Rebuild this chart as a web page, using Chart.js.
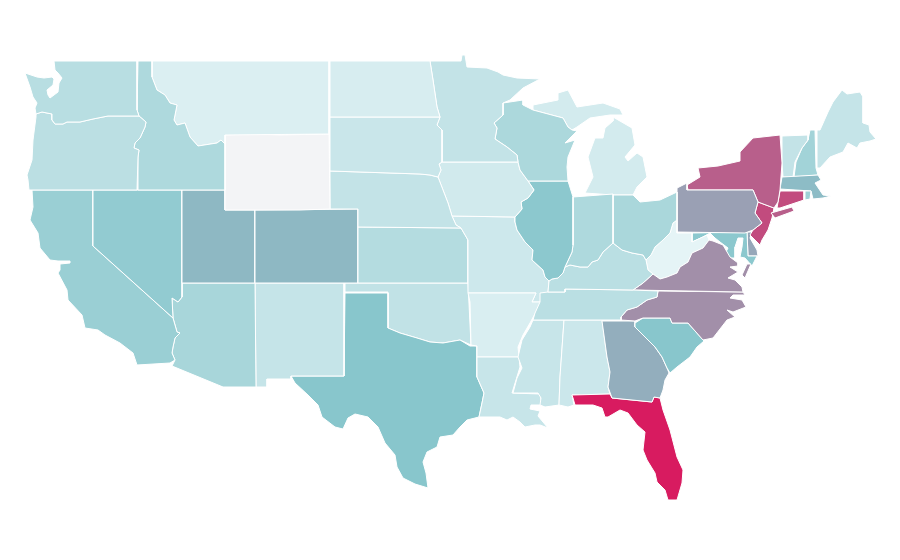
<!DOCTYPE html>
<html><head><meta charset="utf-8">
<style>html,body{margin:0;padding:0;background:#fff}canvas{display:block}</style>
<script src="https://cdn.jsdelivr.net/npm/chart.js@4"></script>
</head><body>
<canvas id="c" width="900" height="560"></canvas>
<script>
const stateNames=["Washington","Oregon","Idaho","Montana","Wyoming","North Dakota","South Dakota","Nebraska","Minnesota","Wisconsin","Iowa","Illinois","Indiana","Ohio","Kentucky","Tennessee","Virginia","North Carolina","South Carolina","Georgia","Florida","Alabama","Mississippi","Louisiana","Arkansas","Missouri","Kansas","Colorado","Utah","Nevada","California","Arizona","New Mexico","Texas","Oklahoma","Michigan","West Virginia","Pennsylvania","New York","New Jersey","Connecticut","Rhode Island","Massachusetts","Vermont","New Hampshire","Maine","Maryland","Delaware"];
const stateValues=[26,24,31,8,null,10,17,20,20,32,13,48,31,33,25,25,66,66,50,57,100,16,18,18,9,15,28,54,54,45,41,34,19,50,21,12,3,61,80,86,86,39,53,20,37,19,48,59];
const WA=[[54,61,137,61,137,110,139,116,108,116,93,119,80,122,67,122,63,124,55,124,52,120,52,114,42,112,36,114,35,108,37,103,33,97,30,87,25,73,37,77,44,78,52,77,54,79,53,85,47,90,48,95,50,98,58,92,59,83,62,78,58,73,55,70]];
const OR=[[36,114,42,112,52,114,52,120,55,124,63,124,67,122,80,122,93,119,108,116,139,116,146,122,145,127,140,138,135,143,134,148,139,150,138,157,137,190,29,190,28,180,27,175,32,160,33,140,36,117]];
const ID=[[138,61,152,61,152,77,157,90,165,95,170,103,177,105,174,120,177,125,185,123,190,137,198,146,217,143,221,140,225,144,225,190,138,190,138,157,139,150,134,148,135,143,140,138,145,127,146,122,139,116,137,110]];
const MT=[[152,61,329,61,329,134,225,135,225,144,221,140,217,143,198,146,190,137,185,123,177,125,174,120,177,105,170,103,165,95,157,90,152,77]];
const WY=[[225,135,250,134,280,135,329,134,330,209,300,210,255,210,225,210]];
const ND=[[330,61,430,61,433,80,437,107,440,117,330,117]];
const SD=[[330,117,440,117,437,125,442,130,442,162,439,164,441,170,438,177,430,175,420,174,330,171]];
const NE=[[330,171,420,174,430,175,438,177,443,190,448,203,452,216,456,225,461,228,358,227,358,209,330,209]];
const MN=[[430,61,461,61,462,55,465,55,467,67,487,68,498,72,503,75,517,78,540,79,523,88,510,100,503,103,503,115,494,123,497,128,495,139,507,147,517,155,518,162,442,162,442,130,437,125,440,117,437,107,433,80]];
const WI=[[503,103,523,100,523,105,533,110,563,118,568,127,572,130,577,131,565,143,575,140,568,157,567,167,568,181,528,181,520,170,518,162,517,155,507,147,495,139,497,128,494,123,503,115]];
const IA=[[442,162,518,162,520,170,528,181,534,190,528,198,521,202,522,209,515,217,452,216,448,203,443,190,438,177,441,170,439,164]];
const IL=[[528,181,568,181,573,197,573,245,572,252,565,267,563,273,558,278,552,279,549,281,545,277,543,270,532,260,533,250,525,242,517,230,515,222,515,217,522,209,521,202,528,198,534,190]];
const IN=[[573,197,613,194,613,243,603,252,598,260,592,262,588,267,580,267,570,265,565,267,572,252,573,245]];
const OH=[[613,195,633,195,640,202,660,200,677,192,677,220,673,223,670,233,663,240,655,247,651,255,646,260,643,255,632,253,622,250,613,243]];
const KY=[[613,243,622,250,632,253,643,255,646,260,648,270,653,274,643,283,633,290,565,289,565,292,548,292,549,281,552,279,558,278,563,273,565,267,570,265,580,267,588,267,592,262,598,260,603,252]];
const TN=[[540,293,548,292,565,292,565,289,633,290,658,291,657,297,647,300,637,307,627,310,621,317,621,320,533,320,535,313,540,302]];
const VA=[[633,290,643,283,653,274,660,279,667,277,677,273,680,267,688,262,692,253,703,248,709,240,713,241,723,245,730,257,738,263,738,266,730,267,738,272,728,278,735,280,742,287,743,292],[751,264,745,278,742,275,747,264]];
const NC=[[621,320,621,317,627,310,637,307,647,300,657,297,658,291,743,292,745,295,733,295,730,298,742,300,746,307,733,312,727,310,735,317,727,320,713,338,703,340,688,323,672,323,670,318,643,318,635,321]];
const SC=[[704,341,697,347,690,357,677,367,670,373,667,368,662,357,655,347,643,335,635,327,635,323,643,318,670,318,672,323,688,323]];
const GA=[[602,321,635,321,635,327,643,335,655,347,662,357,667,368,669,373,665,380,663,390,660,398,654,397,652,402,612,398,608,387,610,372,607,357]];
const FL=[[572,395,610,394,612,398,652,402,654,397,660,398,663,410,670,430,677,457,683,470,682,483,677,500,668,500,665,490,657,482,655,473,647,460,643,450,645,432,637,425,628,413,620,410,608,417,605,417,602,408,593,405,580,405,575,405,573,398]];
const AL=[[564,320,602,320,607,357,610,372,608,387,610,394,572,395,574,405,568,407,559,405,560,377]];
const MS=[[533,320,564,320,560,377,559,405,545,407,540,405,541,398,538,393,513,393,517,378,522,368,518,357,522,340,530,327]];
const LA=[[477,357,519,357,520,367,512,393,540,394,542,405,531,405,530,409,540,411,538,416,548,428,540,425,535,425,525,427,520,422,513,417,507,420,500,417,487,417,479,417,482,403,484,393,477,377]];
const AR=[[468,293,536,293,532,302,542,302,537,310,530,323,523,335,518,347,519,357,477,357,477,346,471,345,470,302]];
const MO=[[452,216,515,217,515,222,517,230,525,242,533,250,532,260,543,270,545,277,549,281,548,292,542,302,532,302,536,293,468,293,468,240,461,228,456,225]];
const KS=[[358,227,461,228,468,240,468,283,358,283]];
const CO=[[255,210,358,209,358,283,255,283]];
const UT=[[182,190,225,190,225,210,255,210,255,283,182,283]];
const NV=[[93,190,182,190,182,297,178,302,172,298,173,318,93,246]];
const CA=[[32,190,93,190,93,246,173,318,177,332,180,333,175,338,173,347,172,353,175,360,170,363,137,365,133,353,120,343,105,335,98,330,85,328,82,315,68,300,67,290,58,273,60,270,60,264,70,263,70,261,58,261,50,260,40,248,38,233,30,220,33,207]];
const AZ=[[182,283,255,283,256,387,223,387,172,366,175,360,172,353,173,347,175,338,180,333,177,332,173,318,172,298,178,302,182,297]];
const NM=[[255,283,344,283,344,376,291,376,291,379,267,379,267,387,256,387]];
const TX=[[345,293,388,293,388,328,400,333,417,338,430,342,443,343,460,340,470,346,477,346,477,377,484,393,482,403,479,417,467,420,460,427,453,435,440,437,437,447,427,452,423,462,426,473,428,488,415,484,403,478,397,467,395,455,385,443,378,427,368,417,355,414,348,418,343,429,335,427,322,417,318,405,308,395,295,383,291,376,344,376]];
const OK=[[345,283,468,283,471,345,460,340,443,343,430,342,417,338,400,333,388,328,388,292,345,292]];
const MI=[[585,193,613,195,633,195,637,187,647,177,643,157,637,153,628,161,625,157,635,145,632,128,613,117,613,121,605,128,603,138,595,138,588,157,593,177],[533,105,558,100,558,93,568,90,577,107,603,103,620,109,623,115,610,115,590,118,577,127,572,130,568,127,563,118,533,110]];
const WV=[[646,260,651,255,655,247,663,240,670,233,673,223,677,220,677,233,692,233,692,242,707,235,709,240,703,248,692,253,688,262,680,267,677,273,667,277,660,279,653,274,648,270]];
const PA=[[677,188,687,183,687,190,753,190,758,202,755,213,762,223,753,230,745,233,677,232]];
const NY=[[688,190,687,185,700,177,698,168,718,166,740,161,740,152,753,138,780,135,782,163,780,190,778,202,774,208,758,202,753,190],[771,213,792,207,794,211,775,218]];
const NJ=[[758,202,774,208,772,218,768,230,762,240,760,245,750,235,753,230,762,223,755,213]];
const CT=[[780,191,804,191,804,200,798,202,780,208,777,208,778,202]];
const RI=[[805,191,811,191,810,199,805,200]];
const MA=[[782,177,818,175,821,180,815,183,823,195,831,196,823,198,813,199,811,191,780,189]];
const VT=[[782,136,808,135,808,140,802,148,795,162,793,177,783,177,782,163]];
const NH=[[810,130,815,130,816,168,818,175,794,177,796,162,802,148,808,140]];
const ME=[[817,130,820,130,828,112,833,102,842,90,847,94,860,92,863,97,863,123,869,125,870,132,876,139,870,141,860,143,857,148,848,143,843,152,830,157,820,168,817,168]];
const MD=[[692,233,747,232,748,256,757,256,752,266,745,258,740,257,742,247,743,238,738,238,735,247,735,258,723,258,728,248,720,242,715,238,710,233,703,237,692,242]];
const DE=[[747,232,752,232,750,238,757,250,758,256,748,256]];
const stateOutlines=[WA,OR,ID,MT,WY,ND,SD,NE,MN,WI,IA,IL,IN,OH,KY,TN,VA,NC,SC,GA,FL,AL,MS,LA,AR,MO,KS,CO,UT,NV,CA,AZ,NM,TX,OK,MI,WV,PA,NY,NJ,CT,RI,MA,VT,NH,ME,MD,DE];

const noDataColor='#f3f4f6';
const rampLow=[235,247,249], rampMid=[136,198,204], rampHigh=[216,27,96];
function colorFor(v){
  if(v===null)return noDataColor;
  const a=v<=50?rampLow:rampMid, b=v<=50?rampMid:rampHigh, t=v<=50?v/50:(v-50)/50;
  return `rgb(${a.map((c,i)=>Math.round(c+(b[i]-c)*t)).join(",")})`;
}
function toPoints(flat){
  const pts=[];
  for(let i=0;i<flat.length;i+=2)pts.push({x:flat[i],y:flat[i+1]});
  pts.push({x:flat[0],y:flat[1]});
  return pts;
}
const datasets=[];
stateNames.forEach((name,i)=>{
  stateOutlines[i].forEach(part=>{
    datasets.push({label:name,data:toPoints(part),showLine:true,fill:'shape',
      backgroundColor:colorFor(stateValues[i]),borderColor:'#ffffff',borderWidth:1,
      pointRadius:0,pointHoverRadius:0,tension:0,clip:false});
  });
});
new Chart(document.getElementById('c'),{
  type:'scatter',
  data:{datasets},
  options:{responsive:false,animation:false,devicePixelRatio:1,
    layout:{padding:0},
    plugins:{legend:{display:false},title:{display:false},tooltip:{enabled:false}},
    scales:{
      x:{type:'linear',min:0,max:900,display:false},
      y:{type:'linear',min:0,max:560,reverse:true,display:false}
    }}
});
</script>
</body></html>
